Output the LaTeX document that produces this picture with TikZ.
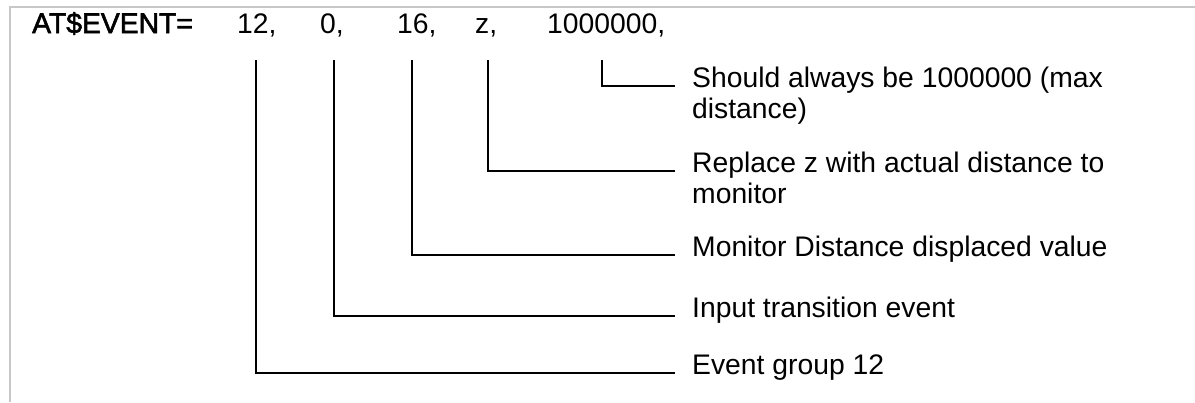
\documentclass[tikz,border=0pt]{standalone}
\usepackage{fontspec}
\setmainfont{Liberation Sans}
\newfontfamily\headfont[FakeBold=2]{Liberation Sans}
\begin{document}
\begin{tikzpicture}[x=1pt,y=-1pt,
  frame/.style={draw=black!22,line width=2pt},
  leader/.style={draw=black,line width=2pt},
  val/.style={anchor=base west,inner sep=0pt,font=\fontsize{28.3}{31}\selectfont},
  head/.style={anchor=base west,inner sep=0pt,font=\fontsize{28.3}{31}\selectfont\headfont},
  desc/.style={anchor=base west,inner sep=0pt,font=\fontsize{28.3}{31}\selectfont}]
\useasboundingbox (0,0) rectangle (1195,402);
% outer frame edges
\draw[frame] (10,402) -- (10,7) -- (1195,7);
% command and its parameters
\node[head] (cmd) at (32,33) {AT\$EVENT=};
\node[val] (p1) at (237,33) {12,};
\node[val] (p2) at (320,33) {0,};
\node[val] (p3) at (397,33) {16,};
\node[val] (p4) at (475,33) {z,};
\node[val] (p5) at (547,33) {1000000,};
% descriptions
\node[desc] (d5) at (692,87) {Should always be 1000000 (max};
\node[desc] (d5b) at (692,118) {distance)};
\node[desc] (d4) at (692,172) {Replace z with actual distance to};
\node[desc] (d4b) at (692,203) {monitor};
\node[desc] (d3) at (692,256) {Monitor Distance displaced value};
\node[desc] (d2) at (692,317) {Input transition event};
\node[desc] (d1) at (692,374) {Event group 12};
% leader start points below each parameter
\coordinate (s1) at (256,60);
\coordinate (s2) at (334,60);
\coordinate (s3) at (412,60);
\coordinate (s4) at (488,60);
\coordinate (s5) at (602,60);
% leader end points just left of each description
\coordinate (e5) at ([xshift=-17pt,yshift=1pt]d5.base west);
\coordinate (e4) at ([xshift=-17pt,yshift=1pt]d4.base west);
\coordinate (e3) at ([xshift=-17pt,yshift=1pt]d3.base west);
\coordinate (e2) at ([xshift=-17pt,yshift=1pt]d2.base west);
\coordinate (e1) at ([xshift=-17pt,yshift=1pt]d1.base west);
\draw[leader] (s1) |- (e1);
\draw[leader] (s2) |- (e2);
\draw[leader] (s3) |- (e3);
\draw[leader] (s4) |- (e4);
\draw[leader] (s5) |- (e5);
\end{tikzpicture}
\end{document}
